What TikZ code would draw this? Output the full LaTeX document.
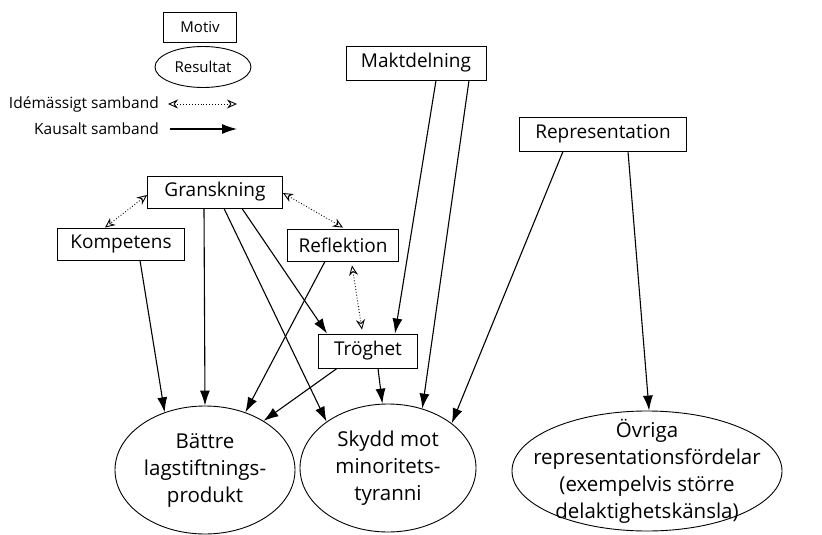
\documentclass[tikz,border=0pt]{standalone}
\usepackage{fontspec}
\setmainfont{Open Sans}
\usetikzlibrary{arrows.meta,shapes.geometric}

\begin{document}
\begin{tikzpicture}[x=1pt,y=-1pt,
  box/.style={draw, line width=0.9pt, minimum height=32pt, inner sep=0pt, font=\fontsize{19}{26}\selectfont},
  result/.style={draw, ellipse, line width=0.9pt, inner sep=0pt},
  restext/.style={align=center, inner sep=0pt, font=\fontsize{20.5}{27}\selectfont},
  causal/.style={line width=1.1pt, -{Latex[length=15pt,width=10pt]}},
  idea/.style={line width=0.9pt, dotted, {Stealth[open,length=10pt,width=9pt]}-{Stealth[open,length=10pt,width=9pt]}},
  legend/.style={anchor=east, inner sep=0pt, font=\fontsize{15.5}{18}\selectfont}]
\useasboundingbox (0,0) rectangle (822,535);

% legend
\node[box, minimum width=73pt, minimum height=30pt, font=\fontsize{15}{17}\selectfont] (motiv) at (200,27) {Motiv};
\node[result, minimum width=96pt, minimum height=41pt, font=\fontsize{15}{17}\selectfont] (resultat) at (203,67) {Resultat};
\node[legend] (idetxt) at (159,104) {Idémässigt samband};
\node[legend] (kaustxt) at (159,129) {Kausalt samband};
\coordinate (ideA) at (168,104);
\coordinate (ideB) at (237,104);
\coordinate (kausA) at (170,129);
\coordinate (kausB) at (237,129);
\draw[idea] (ideA) -- (ideB);
\draw[causal] (kausA) -- (kausB);

% motiv
\node[box, minimum width=140pt, minimum height=34pt] (makt) at (416,63) {Maktdelning};
\node[box, minimum width=167pt, minimum height=34pt] (repr) at (603,134) {Representation};
\node[box, minimum width=135pt] (gran) at (215,192) {Granskning};
\node[box, minimum width=127pt] (komp) at (121,244) {Kompetens};
\node[box, minimum width=111pt] (refl) at (343,245) {Reflektion};
\node[box, minimum width=99pt, minimum height=34pt] (trog) at (368,351) {Tröghet};

% resultat
\node[result, minimum width=180pt, minimum height=128pt] (batt) at (205,470) {};
\node[restext] (batttxt) at (batt) {Bättre\\lagstiftnings-\\produkt};
\node[result, minimum width=176pt, minimum height=128pt] (skydd) at (388,468) {};
\node[restext] (skyddtxt) at (skydd) {Skydd mot\\minoritets-\\tyranni};
\node[result, minimum width=270pt, minimum height=120pt] (ovr) at (647,471) {};
\node[restext] (ovrtxt) at (ovr) {Övriga\\representationsfördelar\\(exempelvis större\\delaktighetskänsla)};

% idemassiga samband
\draw[idea] ([yshift=-3pt]gran.west) -- ([xshift=-16pt]komp.north);
\draw[idea] ([yshift=-1pt]gran.east) -- ([yshift=1pt]refl.north);
\draw[idea] ([xshift=9pt,yshift=-4pt]refl.south) -- ([xshift=-6pt,yshift=4pt]trog.north);

% kausala samband
\draw[causal] ([xshift=19pt]komp.south) -- (batt.125);
\draw[causal] ([xshift=-11pt]gran.south) -- (batt.90);
\draw[causal] ([xshift=9pt]gran.south) -- (skydd.143);
\draw[causal] ([xshift=27pt]gran.south) -- ([xshift=-41pt]trog.north);
\draw[causal] ([xshift=-18pt]refl.south) -- (batt.55);
\draw[causal] ([xshift=20pt]makt.south) -- ([xshift=27pt]trog.north);
\draw[causal] ([xshift=53pt]makt.south) -- (skydd.60);
\draw[causal] ([xshift=-31pt]trog.south) -- (batt.40);
\draw[causal] ([xshift=10pt]trog.south) -- (skydd.95);
\draw[causal] ([xshift=-40pt]repr.south) -- (skydd.35);
\draw[causal] ([xshift=25pt]repr.south) -- (ovr.88);
\end{tikzpicture}
\end{document}
